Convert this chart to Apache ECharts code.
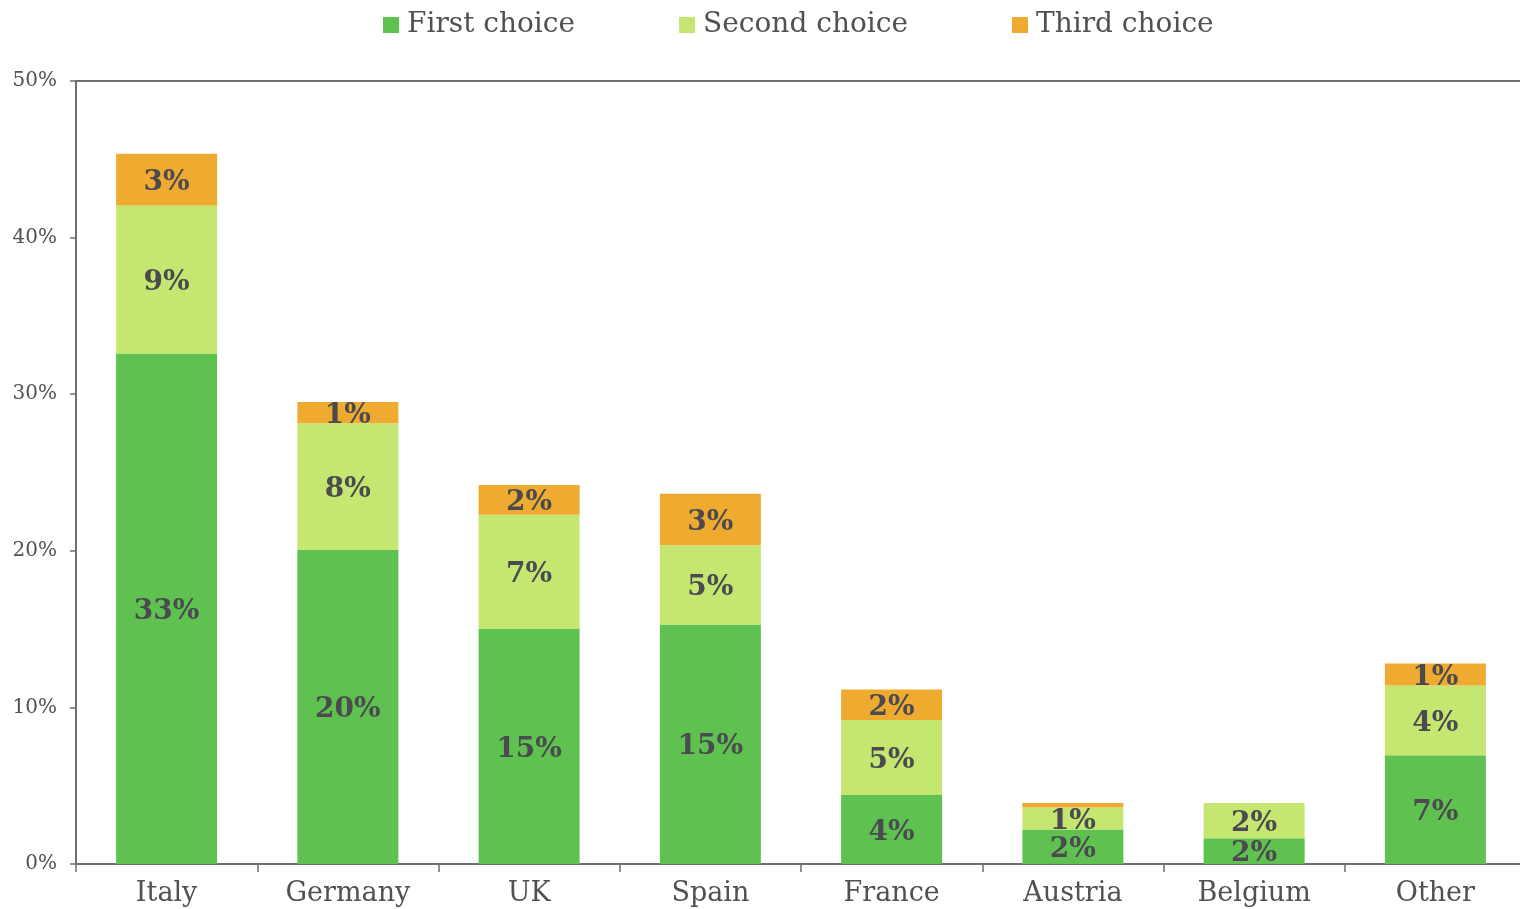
<!DOCTYPE html>
<html>
<head>
<meta charset="utf-8">
<script src="https://cdn.jsdelivr.net/npm/echarts@6/dist/echarts.min.js"></script>
<style>
  html, body { margin: 0; padding: 0; background: #fff; }
  #chart { width: 1520px; height: 909px; }
</style>
</head>
<body>
<div id="chart"></div>
<script>
const categories = ['Italy', 'Germany', 'UK', 'Spain', 'France', 'Austria', 'Belgium', 'Other'];
const firstChoice = [32.6, 20.05, 15.0, 15.3, 4.4, 2.2, 1.65, 6.95];
const secondChoice = [9.45, 8.1, 7.3, 5.05, 4.8, 1.4, 2.25, 4.45];
const thirdChoice = [3.3, 1.35, 1.9, 3.3, 1.95, 0.3, 0, 1.4];
const yTicks = [0, 10, 20, 30, 40, 50];

const textColor = '#505055';
const axisColor = '#6e6e73';
const font = "Georgia, 'DejaVu Serif', serif";

const chart = echarts.init(document.getElementById('chart'));

function makeSeries(name, data, color) {
  return {
    name: name,
    type: 'bar',
    stack: 'total',
    data: data,
    barWidth: 101,
    itemStyle: { color: color },
    label: {
      show: true,
      position: 'inside',
      color: '#4a4a4f',
      fontFamily: font,
      fontWeight: 'bold',
      fontSize: 28,
      offset: [0, 3],
      formatter: (p) => p.value < 0.5 ? '' : Math.round(p.value) + '%'
    }
  };
}

chart.setOption({
  animation: false,
  textStyle: { fontFamily: font },
  legend: {
    top: 6,
    left: 378,
    itemWidth: 16,
    itemHeight: 16,
    itemGap: 104,
    icon: 'rect',
    textStyle: { color: textColor, fontSize: 28, fontFamily: font, padding: [0, 0, 0, 3] },
    data: ['First choice', 'Second choice', 'Third choice']
  },
  grid: { left: 76, top: 81, right: -6, bottom: 45, outerBoundsMode: 'none' },
  xAxis: [
    {
      type: 'category',
      data: categories,
      axisLine: { lineStyle: { color: axisColor, width: 2 } },
      axisTick: { show: true, length: 8, lineStyle: { color: axisColor, width: 1.5 } },
      axisLabel: { color: textColor, fontSize: 27, fontFamily: font, margin: 16 }
    },
    {
      type: 'category',
      position: 'top',
      data: categories,
      axisLine: { show: true, lineStyle: { color: axisColor, width: 2 } },
      axisTick: { show: false },
      axisLabel: { show: false }
    }
  ],
  yAxis: {
    type: 'value',
    min: 0,
    max: 50,
    interval: 10,
    axisLine: { show: true, lineStyle: { color: axisColor, width: 2 } },
    axisTick: { show: true, length: 6, lineStyle: { color: axisColor, width: 1.5 } },
    splitLine: { show: false },
    axisLabel: {
      color: textColor,
      fontSize: 20,
      fontFamily: font,
      margin: 19,
      formatter: (v) => yTicks.includes(v) ? v + '%' : ''
    }
  },
  series: [
    makeSeries('First choice', firstChoice, '#5fc150'),
    makeSeries('Second choice', secondChoice, '#c5e670'),
    makeSeries('Third choice', thirdChoice, '#efab30')
  ]
});
</script>
</body>
</html>
